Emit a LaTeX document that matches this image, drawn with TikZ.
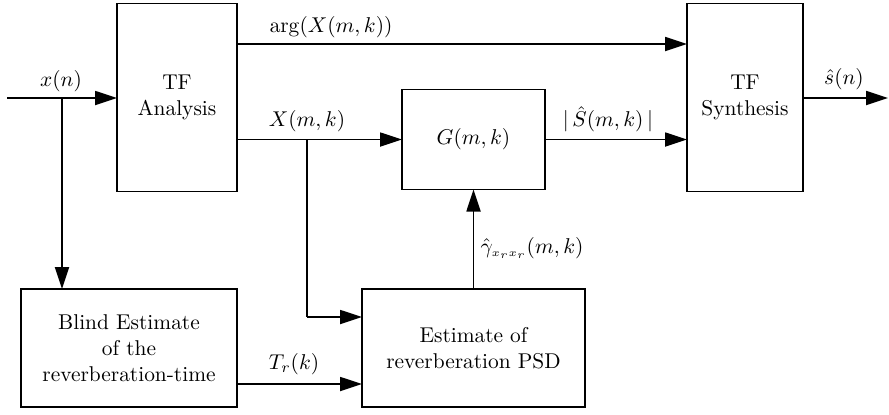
\RequirePackage{fix-cm}
\documentclass[tikz,border=0pt]{standalone}
\usetikzlibrary{arrows.meta}
\begin{document}
\begin{tikzpicture}[x=0.5pt,y=-0.5pt,
  font=\fontsize{10.7pt}{13pt}\selectfont,
  blockbox/.style={draw,line width=0.9pt,inner sep=0pt,outer sep=0pt,align=center},
  arr/.style={line width=0.9pt,-{Triangle[length=11pt,width=7pt]}},
  lbl/.style={inner sep=0pt}]
\useasboundingbox (0,0) rectangle (889,414);
% blocks
\node[blockbox,minimum width=60pt,minimum height=94pt] (tfa) at (177,97.5) {TF\\Analysis};
\node[blockbox,minimum width=58pt,minimum height=94pt] (tfs) at (745,97.5) {TF\\Synthesis};
\node[blockbox,minimum width=71.5pt,minimum height=50pt] (g) at (473.5,139.5) {$G(m,k)$};
\node[blockbox,minimum width=108pt,minimum height=59pt] (blind) at (129,348) {Blind Estimate\\of the\\reverberation-time};
\node[blockbox,minimum width=111.5pt,minimum height=59pt] (est) at (473.5,348) {Estimate of\\reverberation PSD};
% coordinates
\coordinate (in) at (7,98);
\coordinate (b1) at (62,98);
\coordinate (argy) at (0,44);
\coordinate (b2) at (307,139.5);
\coordinate (b3) at (307,317);
\coordinate (ty) at (0,384);
\coordinate (out) at (888,98);
% connectors
\draw[arr] (in) -- (in -| tfa.west);
\draw[arr] (b1) -- (b1 |- blind.north);
\draw[arr] (argy -| tfa.east) -- (argy -| tfs.west);
\draw[arr] (g.west -| tfa.east) -- (g.west);
\draw[line width=0.9pt] (b2) -- (b3);
\draw[arr] (b3) -- (b3 -| est.west);
\draw[arr] (g.east) -- (g.east -| tfs.west);
\draw[arr] (in -| tfs.east) -- (out);
\draw[arr] (est.north) -- (g.south);
\draw[arr] (ty -| blind.east) -- (ty -| est.west);
% labels
\node[lbl] (lx) at (61,81) {$x(n)$};
\node[lbl] (larg) at (331,27) {$\arg(X(m,k))$};
\node[lbl] (lX) at (307,121) {$X(m,k)$};
\node[lbl] (lS) at (608,119) {$|\,\hat{S}(m,k)\,|$};
\node[lbl] (ls) at (844,79) {$\hat{s}(n)$};
\node[lbl] (lg) at (532,248) {$\hat{\gamma}_{\scriptscriptstyle x_r x_r}(m,k)$};
\node[lbl] (lT) at (294,364) {$T_r(k)$};
\end{tikzpicture}
\end{document}
